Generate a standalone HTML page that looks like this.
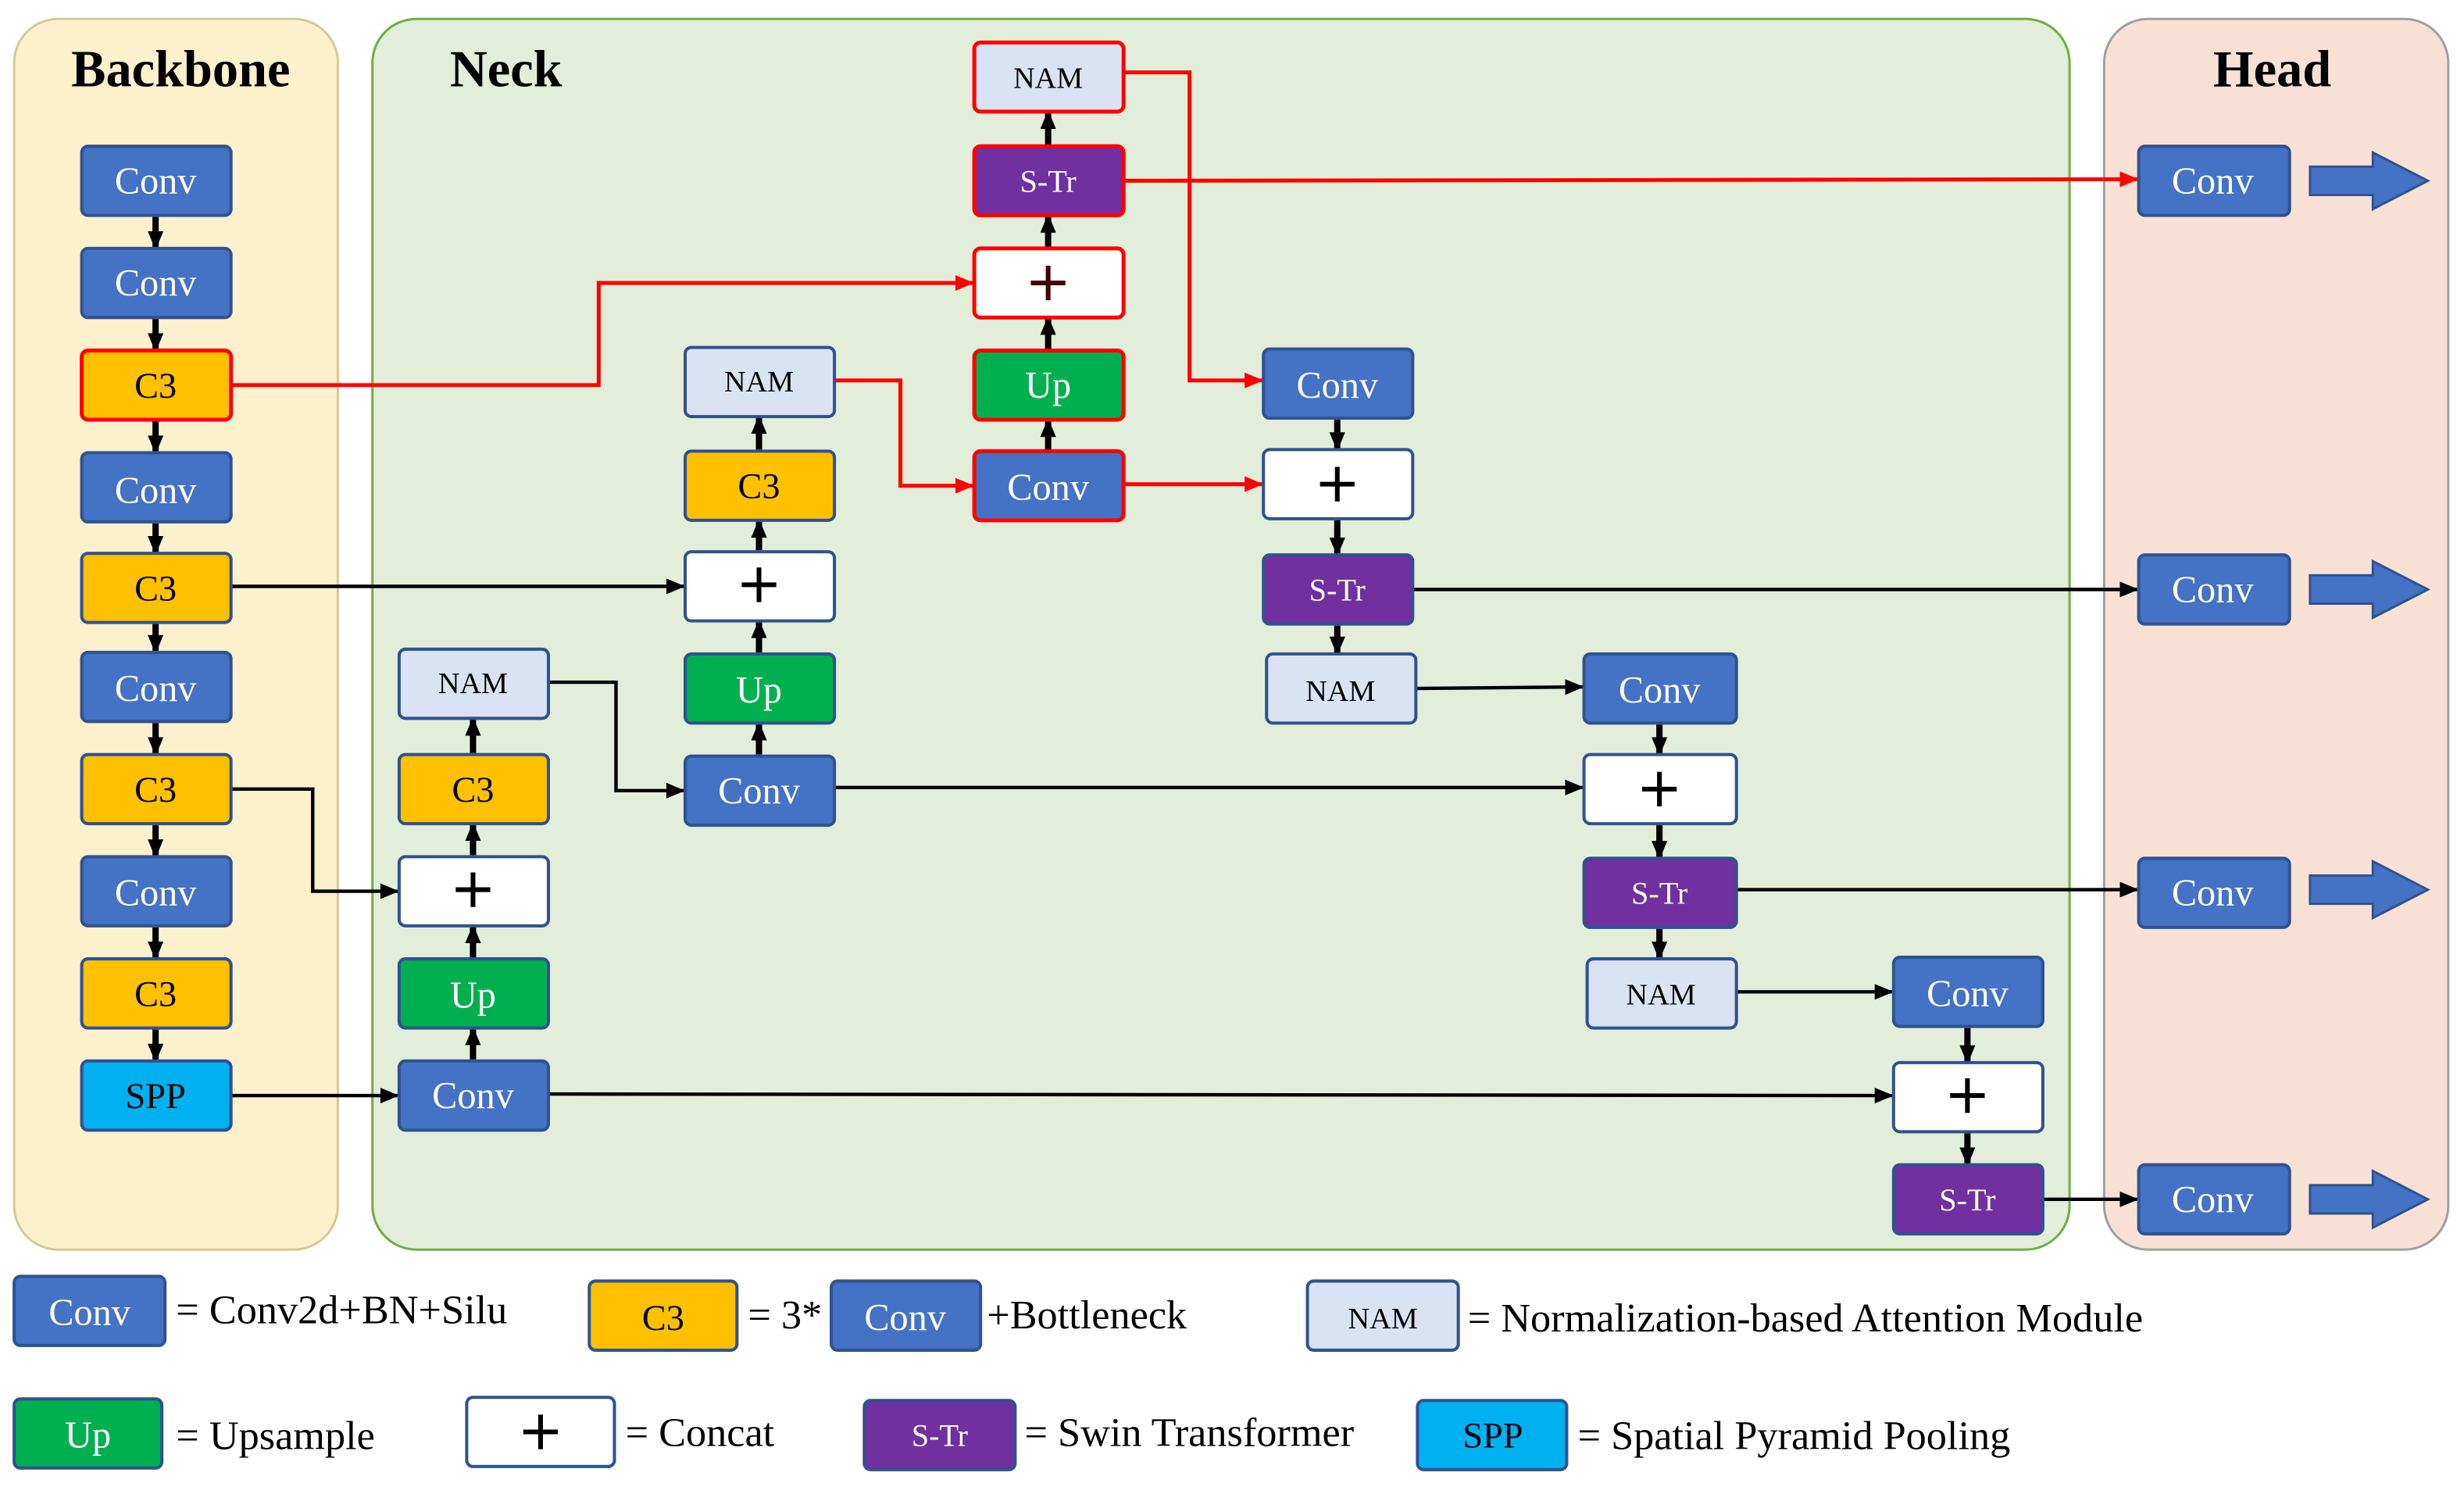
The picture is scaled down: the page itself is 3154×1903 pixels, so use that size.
<!DOCTYPE html>
<html><head><meta charset="utf-8"><style>
html,body{margin:0;padding:0;background:#fff;}
svg{display:block;}
text{font-family:"Liberation Serif",serif;}
</style></head><body>
<svg width="3154" height="1903" viewBox="0 0 1568 946" xmlns="http://www.w3.org/2000/svg">
<defs>
<marker id="t" markerUnits="userSpaceOnUse" markerWidth="12" markerHeight="10" refX="10" refY="5" orient="auto"><path d="M0,0 L12,5 L0,10 z" fill="#000"/></marker>
<marker id="a" markerUnits="userSpaceOnUse" markerWidth="12" markerHeight="10" refX="11" refY="5" orient="auto"><path d="M0,0 L12,5 L0,10 z" fill="#000"/></marker>
<marker id="r" markerUnits="userSpaceOnUse" markerWidth="12" markerHeight="10" refX="11" refY="5" orient="auto"><path d="M0,0 L12,5 L0,10 z" fill="#f00"/></marker>
<style>
.cv{fill:#4472c4;stroke:#2f528f;stroke-width:2}
.c3{fill:#ffc000;stroke:#2f528f;stroke-width:2}
.nm{fill:#dae3f3;stroke:#2f528f;stroke-width:2}
.up{fill:#00b050;stroke:#2f528f;stroke-width:2}
.st{fill:#7030a0;stroke:#2f528f;stroke-width:2}
.sp{fill:#00b0f0;stroke:#2f528f;stroke-width:2}
.pl{fill:#fff;stroke:#2f528f;stroke-width:2}
.red{stroke:#f00 !important;stroke-width:2.5 !important}
.w{fill:#fff;font-size:24px}
.k{fill:#000;font-size:23px}
.s{fill:#000;font-size:19px}
.sw{fill:#fff;font-size:20px}
.lt{fill:#000;font-size:26px}
.ta{stroke:#000;stroke-width:4;marker-end:url(#t)}
.la{stroke:#000;stroke-width:2.2;fill:none;marker-end:url(#a)}
.ra{stroke:#f00;stroke-width:2.5;fill:none;marker-end:url(#r)}
.px{stroke:#000;stroke-width:3}
.ha{fill:#4472c4;stroke:#2f528f;stroke-width:1.5}
</style>
</defs>
<rect x="9" y="12" width="206" height="783" rx="28" fill="#fdf0cd" stroke="#d9c79a" stroke-width="1.5"/>
<rect x="237" y="12" width="1080" height="783" rx="28" fill="#e2eed9" stroke="#70ad47" stroke-width="1.5"/>
<rect x="1339" y="12" width="219" height="783" rx="28" fill="#f8e1d4" stroke="#a0a0a0" stroke-width="1.5"/>
<text x="115" y="55" text-anchor="middle" font-size="33" font-weight="bold">Backbone</text>
<text x="322" y="55" text-anchor="middle" font-size="33" font-weight="bold">Neck</text>
<text x="1446" y="55" text-anchor="middle" font-size="33" font-weight="bold">Head</text>

<polyline class="ra" points="147,245 381,245 381,180 619,180"/>
<line class="la" x1="147" y1="373" x2="435" y2="373"/>
<polyline class="la" points="147,502 199,502 199,567 253,567"/>
<line class="la" x1="147" y1="697" x2="253" y2="697"/>
<polyline class="la" points="349,434 392,434 392,503 435,503"/>
<line class="la" x1="531" y1="501" x2="1007" y2="501"/>
<line class="la" x1="349" y1="696" x2="1204" y2="697"/>
<polyline class="ra" points="531,242 573,242 573,309 619,309"/>
<line class="ra" x1="715" y1="308" x2="803" y2="308"/>
<polyline class="ra" points="715,46 757,46 757,242 803,242"/>
<line class="ra" x1="715" y1="115" x2="1360" y2="114"/>
<line class="la" x1="899" y1="375" x2="1360" y2="375"/>
<line class="la" x1="901" y1="438" x2="1007" y2="437"/>
<line class="la" x1="1105" y1="566" x2="1360" y2="566"/>
<line class="la" x1="1105" y1="631" x2="1204" y2="631"/>
<line class="la" x1="1300" y1="763" x2="1360" y2="763"/>

<g class="ta">
<line x1="99" y1="138" x2="99" y2="157"/><line x1="99" y1="203" x2="99" y2="222"/><line x1="99" y1="268" x2="99" y2="287"/>
<line x1="99" y1="333" x2="99" y2="351"/><line x1="99" y1="397" x2="99" y2="414"/><line x1="99" y1="460" x2="99" y2="479"/>
<line x1="99" y1="525" x2="99" y2="544"/><line x1="99" y1="590" x2="99" y2="609"/><line x1="99" y1="655" x2="99" y2="674"/>
<line x1="301" y1="674" x2="301" y2="655"/><line x1="301" y1="609" x2="301" y2="590"/><line x1="301" y1="544" x2="301" y2="525"/><line x1="301" y1="479" x2="301" y2="458"/>
<line x1="483" y1="480" x2="483" y2="461"/><line x1="483" y1="415" x2="483" y2="396"/><line x1="483" y1="350" x2="483" y2="332"/><line x1="483" y1="286" x2="483" y2="266"/>
<line x1="667" y1="286" x2="667" y2="268"/><line x1="667" y1="222" x2="667" y2="203"/><line x1="667" y1="157" x2="667" y2="138"/><line x1="667" y1="92" x2="667" y2="72"/>
<line x1="851" y1="267" x2="851" y2="285"/><line x1="851" y1="331" x2="851" y2="352"/><line x1="851" y1="398" x2="851" y2="415"/>
<line x1="1056" y1="461" x2="1056" y2="479"/><line x1="1056" y1="525" x2="1056" y2="545"/><line x1="1056" y1="591" x2="1056" y2="609"/>
<line x1="1252" y1="654" x2="1252" y2="675"/><line x1="1252" y1="721" x2="1252" y2="740"/>
</g>

<rect class="cv" x="52" y="93" width="95" height="44" rx="4"/><text class="w" x="99" y="123" text-anchor="middle">Conv</text>
<rect class="cv" x="52" y="158" width="95" height="44" rx="4"/><text class="w" x="99" y="188" text-anchor="middle">Conv</text>
<rect class="c3 red" x="52" y="223" width="95" height="44" rx="4"/><text class="k" x="99" y="253" text-anchor="middle">C3</text>
<rect class="cv" x="52" y="288" width="95" height="44" rx="4"/><text class="w" x="99" y="320" text-anchor="middle">Conv</text>
<rect class="c3" x="52" y="352" width="95" height="44" rx="4"/><text class="k" x="99" y="382" text-anchor="middle">C3</text>
<rect class="cv" x="52" y="415" width="95" height="44" rx="4"/><text class="w" x="99" y="446" text-anchor="middle">Conv</text>
<rect class="c3" x="52" y="480" width="95" height="44" rx="4"/><text class="k" x="99" y="510" text-anchor="middle">C3</text>
<rect class="cv" x="52" y="545" width="95" height="44" rx="4"/><text class="w" x="99" y="576" text-anchor="middle">Conv</text>
<rect class="c3" x="52" y="610" width="95" height="44" rx="4"/><text class="k" x="99" y="640" text-anchor="middle">C3</text>
<rect class="sp" x="52" y="675" width="95" height="44" rx="4"/><text class="k" x="99" y="705" text-anchor="middle">SPP</text>

<rect class="nm" x="254" y="413" width="95" height="44" rx="4"/><text class="s" x="301" y="441" text-anchor="middle">NAM</text>
<rect class="c3" x="254" y="480" width="95" height="44" rx="4"/><text class="k" x="301" y="510" text-anchor="middle">C3</text>
<rect class="pl" x="254" y="545" width="95" height="44" rx="4"/><line class="px" x1="290" y1="566" x2="312" y2="566"/><line class="px" x1="301" y1="555" x2="301" y2="577"/>
<rect class="up" x="254" y="610" width="95" height="44" rx="4"/><text class="w" x="301" y="641" text-anchor="middle">Up</text>
<rect class="cv" x="254" y="675" width="95" height="44" rx="4"/><text class="w" x="301" y="705" text-anchor="middle">Conv</text>

<rect class="nm" x="436" y="221" width="95" height="44" rx="4"/><text class="s" x="483" y="249" text-anchor="middle">NAM</text>
<rect class="c3" x="436" y="287" width="95" height="44" rx="4"/><text class="k" x="483" y="317" text-anchor="middle">C3</text>
<rect class="pl" x="436" y="351" width="95" height="44" rx="4"/><line class="px" x1="472" y1="372" x2="494" y2="372"/><line class="px" x1="483" y1="361" x2="483" y2="383"/>
<rect class="up" x="436" y="416" width="95" height="44" rx="4"/><text class="w" x="483" y="447" text-anchor="middle">Up</text>
<rect class="cv" x="436" y="481" width="95" height="44" rx="4"/><text class="w" x="483" y="511" text-anchor="middle">Conv</text>

<rect class="nm red" x="620" y="27" width="95" height="44" rx="4"/><text class="s" x="667" y="56" text-anchor="middle">NAM</text>
<rect class="st red" x="620" y="93" width="95" height="44" rx="4"/><text class="sw" x="667" y="122" text-anchor="middle">S-Tr</text>
<rect class="pl red" x="620" y="158" width="95" height="44" rx="4"/><line class="px" x1="656" y1="180" x2="678" y2="180" style="stroke:#400"/><line class="px" x1="667" y1="169" x2="667" y2="191" style="stroke:#400"/>
<rect class="up red" x="620" y="223" width="95" height="44" rx="4"/><text class="w" x="667" y="253" text-anchor="middle">Up</text>
<rect class="cv red" x="620" y="287" width="95" height="44" rx="4"/><text class="w" x="667" y="318" text-anchor="middle">Conv</text>

<rect class="cv" x="804" y="222" width="95" height="44" rx="4"/><text class="w" x="851" y="253" text-anchor="middle">Conv</text>
<rect class="pl" x="804" y="286" width="95" height="44" rx="4"/><line class="px" x1="840" y1="308" x2="862" y2="308"/><line class="px" x1="851" y1="297" x2="851" y2="319"/>
<rect class="st" x="804" y="353" width="95" height="44" rx="4"/><text class="sw" x="851" y="382" text-anchor="middle">S-Tr</text>
<rect class="nm" x="806" y="416" width="95" height="44" rx="4"/><text class="s" x="853" y="446" text-anchor="middle">NAM</text>

<rect class="cv" x="1008" y="416" width="97" height="44" rx="4"/><text class="w" x="1056" y="447" text-anchor="middle">Conv</text>
<rect class="pl" x="1008" y="480" width="97" height="44" rx="4"/><line class="px" x1="1045" y1="502" x2="1067" y2="502"/><line class="px" x1="1056" y1="491" x2="1056" y2="513"/>
<rect class="st" x="1008" y="546" width="97" height="44" rx="4"/><text class="sw" x="1056" y="575" text-anchor="middle">S-Tr</text>
<rect class="nm" x="1010" y="610" width="95" height="44" rx="4"/><text class="s" x="1057" y="639" text-anchor="middle">NAM</text>

<rect class="cv" x="1205" y="609" width="95" height="44" rx="4"/><text class="w" x="1252" y="640" text-anchor="middle">Conv</text>
<rect class="pl" x="1205" y="676" width="95" height="44" rx="4"/><line class="px" x1="1241" y1="697" x2="1263" y2="697"/><line class="px" x1="1252" y1="686" x2="1252" y2="708"/>
<rect class="st" x="1205" y="741" width="95" height="44" rx="4"/><text class="sw" x="1252" y="770" text-anchor="middle">S-Tr</text>

<rect class="cv" x="1361" y="93" width="96" height="44" rx="4"/><text class="w" x="1408" y="123" text-anchor="middle">Conv</text>
<rect class="cv" x="1361" y="353" width="96" height="44" rx="4"/><text class="w" x="1408" y="383" text-anchor="middle">Conv</text>
<rect class="cv" x="1361" y="546" width="96" height="44" rx="4"/><text class="w" x="1408" y="576" text-anchor="middle">Conv</text>
<rect class="cv" x="1361" y="741" width="96" height="44" rx="4"/><text class="w" x="1408" y="771" text-anchor="middle">Conv</text>
<polygon class="ha" points="1470,106 1510,106 1510,97 1545,115 1510,133 1510,124 1470,124"/>
<polygon class="ha" points="1470,366 1510,366 1510,357 1545,375 1510,393 1510,384 1470,384"/>
<polygon class="ha" points="1470,557 1510,557 1510,548 1545,566 1510,584 1510,575 1470,575"/>
<polygon class="ha" points="1470,754 1510,754 1510,745 1545,763 1510,781 1510,772 1470,772"/>

<rect class="cv" x="9" y="812" width="96" height="44" rx="4"/><text class="w" x="57" y="843" text-anchor="middle">Conv</text>
<text class="lt" x="112" y="842">= Conv2d+BN+Silu</text>
<rect class="c3" x="375" y="815" width="94" height="44" rx="4"/><text class="k" x="422" y="846" text-anchor="middle">C3</text>
<text class="lt" x="476" y="845">= 3*</text>
<rect class="cv" x="529" y="815" width="95" height="44" rx="4"/><text class="w" x="576" y="846" text-anchor="middle">Conv</text>
<text class="lt" x="628" y="845">+Bottleneck</text>
<rect class="nm" x="832" y="815" width="96" height="44" rx="4"/><text class="s" x="880" y="845" text-anchor="middle">NAM</text>
<text class="lt" x="934" y="847">= Normalization-based Attention Module</text>

<rect class="up" x="9" y="890" width="94" height="44" rx="4"/><text class="w" x="56" y="921" text-anchor="middle">Up</text>
<text class="lt" x="112" y="922">= Upsample</text>
<rect class="pl" x="297" y="889" width="94" height="44" rx="4"/><line class="px" x1="333" y1="911" x2="355" y2="911"/><line class="px" x1="344" y1="900" x2="344" y2="922"/>
<text class="lt" x="398" y="920">= Concat</text>
<rect class="st" x="550" y="891" width="96" height="44" rx="4"/><text class="sw" x="598" y="920" text-anchor="middle">S-Tr</text>
<text class="lt" x="652" y="920">= Swin Transformer</text>
<rect class="sp" x="902" y="891" width="95" height="44" rx="4"/><text class="k" x="950" y="921" text-anchor="middle">SPP</text>
<text class="lt" x="1004" y="922">= Spatial Pyramid Pooling</text>
</svg>
</body></html>
